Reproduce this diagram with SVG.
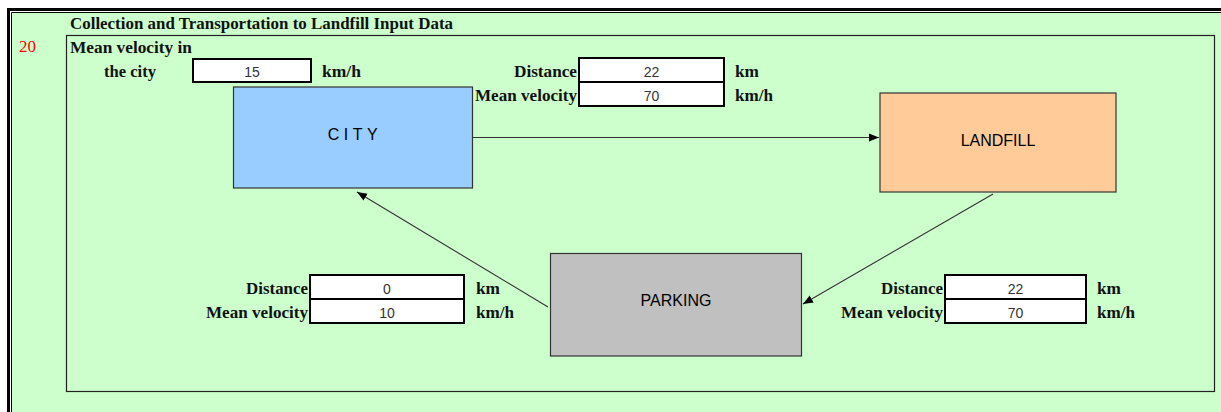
<svg xmlns="http://www.w3.org/2000/svg" width="1221" height="412" viewBox="0 0 1221 412">
<style>
.lbl{font-family:"Liberation Serif","Times New Roman",serif;font-weight:bold;font-size:16px;fill:#111}
.r{text-anchor:end}
.val{font-family:"Liberation Sans",Arial,sans-serif;font-size:14px;fill:#333;text-anchor:middle}
.in{fill:#fff;stroke:#000;stroke-width:2}
.node{stroke:#333;stroke-width:1.2}
.ntxt{font-family:"Liberation Sans",Arial,sans-serif;font-size:16px;fill:#000;text-anchor:middle}
.conn{stroke:#333;stroke-width:1.1;fill:none;marker-end:url(#ah)}
</style>
<defs>
<marker id="ah" viewBox="0 0 10 10" refX="10" refY="5" markerWidth="10" markerHeight="10" markerUnits="userSpaceOnUse" orient="auto">
<path d="M0,1 L10,5 L0,9 z" fill="#000"/>
</marker>
</defs>
<rect x="0" y="0" width="1221" height="412" fill="#fff"/>
<rect x="12" y="13" width="1209" height="399" fill="#CCFFCC"/>
<path d="M8.5,412 V9.5 H1221" fill="none" stroke="#000" stroke-width="3"/>
<path d="M11.5,412 V12.5 H1221" fill="none" stroke="#000" stroke-width="1"/>
<rect x="66.5" y="35.5" width="1148" height="356" fill="none" stroke="#222" stroke-width="1.2"/>
<text x="70" y="29" class="lbl" textLength="383" lengthAdjust="spacingAndGlyphs">Collection and Transportation to Landfill Input Data</text>
<text x="19" y="52" font-family="Liberation Serif,serif" font-size="16" fill="#FF0000" textLength="17" lengthAdjust="spacingAndGlyphs">20</text>

<g id="city-velocity">
<text x="70" y="53" class="lbl" textLength="122" lengthAdjust="spacingAndGlyphs">Mean velocity in</text>
<text x="104" y="77" class="lbl" textLength="52" lengthAdjust="spacingAndGlyphs">the city</text>
<rect x="193" y="59" width="118" height="23" class="in"/>
<text x="252" y="77" class="val">15</text>
<text x="322" y="77" class="lbl" textLength="39" lengthAdjust="spacingAndGlyphs">km/h</text>
</g>

<g id="city">
<rect x="233.5" y="87" width="239" height="101" fill="#99CCFF" class="node"/>
<text x="355" y="140" class="ntxt" letter-spacing="4.5">CITY</text>
</g>

<g id="landfill">
<rect x="880" y="93" width="236" height="99" fill="#FFCC99" class="node"/>
<text x="998" y="146" class="ntxt">LANDFILL</text>
</g>

<g id="parking">
<rect x="550.5" y="253.5" width="251" height="102.5" fill="#C0C0C0" class="node"/>
<text x="676" y="306" class="ntxt">PARKING</text>
</g>

<g id="city-landfill-data">
<text x="577" y="77" class="lbl r" textLength="63" lengthAdjust="spacingAndGlyphs">Distance</text>
<text x="577" y="101" class="lbl r" textLength="102" lengthAdjust="spacingAndGlyphs">Mean velocity</text>
<rect x="579" y="58" width="145" height="24" class="in"/>
<rect x="579" y="82" width="145" height="24" class="in"/>
<text x="651.5" y="77" class="val">22</text>
<text x="651.5" y="101" class="val">70</text>
<text x="735" y="77" class="lbl" textLength="24" lengthAdjust="spacingAndGlyphs">km</text>
<text x="735" y="101" class="lbl" textLength="38" lengthAdjust="spacingAndGlyphs">km/h</text>
</g>

<g id="parking-city-data">
<text x="308" y="294" class="lbl r" textLength="62" lengthAdjust="spacingAndGlyphs">Distance</text>
<text x="308" y="318" class="lbl r" textLength="102" lengthAdjust="spacingAndGlyphs">Mean velocity</text>
<rect x="310" y="275" width="154" height="24" class="in"/>
<rect x="310" y="299" width="154" height="24" class="in"/>
<text x="387" y="294" class="val">0</text>
<text x="387" y="318" class="val">10</text>
<text x="476" y="294" class="lbl" textLength="24" lengthAdjust="spacingAndGlyphs">km</text>
<text x="476" y="318" class="lbl" textLength="38" lengthAdjust="spacingAndGlyphs">km/h</text>
</g>

<g id="landfill-parking-data">
<text x="943" y="294" class="lbl r" textLength="62" lengthAdjust="spacingAndGlyphs">Distance</text>
<text x="943" y="318" class="lbl r" textLength="102" lengthAdjust="spacingAndGlyphs">Mean velocity</text>
<rect x="945" y="275" width="141" height="24" class="in"/>
<rect x="945" y="299" width="141" height="24" class="in"/>
<text x="1015.5" y="294" class="val">22</text>
<text x="1015.5" y="318" class="val">70</text>
<text x="1097" y="294" class="lbl" textLength="24" lengthAdjust="spacingAndGlyphs">km</text>
<text x="1097" y="318" class="lbl" textLength="38" lengthAdjust="spacingAndGlyphs">km/h</text>
</g>

<g id="connectors">
<line x1="472" y1="137.5" x2="879" y2="137.5" class="conn"/>
<line x1="993" y1="194" x2="803" y2="304" class="conn"/>
<line x1="548" y1="307" x2="357" y2="192" class="conn"/>
</g>
</svg>
